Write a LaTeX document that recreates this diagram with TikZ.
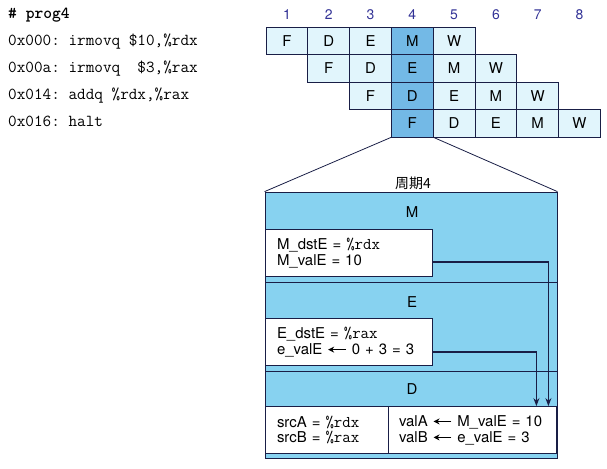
\documentclass[tikz,border=0pt]{standalone}
\usepackage{fontspec}
\setsansfont{TeX Gyre Heros}
\newfontfamily\cjkfont{Noto Sans CJK SC}
\usetikzlibrary{arrows.meta}

\definecolor{navy}{RGB}{25,30,70}
\definecolor{numblue}{RGB}{50,50,150}
\definecolor{cellblue}{RGB}{225,245,252}
\definecolor{hotblue}{RGB}{115,185,230}
\definecolor{bgblue}{RGB}{135,210,240}

\newcommand{\getsarrow}{\tikz[baseline=-0.6ex]\draw[-{Stealth[length=6bp,width=6bp]},line width=1.6bp] (1.2em,0pt) -- (0pt,0pt);}
\newcommand{\regname}[1]{{\ttfamily\fontsize{16.5}{16}\selectfont\%#1}}

\tikzset{
  stage/.style={rectangle, draw=navy, line width=0.8bp, fill=cellblue, minimum width=41.8bp, minimum height=27.5bp, inner sep=0pt, font=\sffamily\fontsize{15}{15}\selectfont},
  hot/.style={stage, fill=hotblue},
  num/.style={text=numblue, font=\sffamily\fontsize{14}{14}\selectfont},
  code/.style={anchor=west, inner sep=0pt, font=\ttfamily\fontsize{16.8}{16}\selectfont\frenchspacing},
  infobox/.style={rectangle, draw=navy, line width=0.8bp, fill=white, align=left, inner ysep=2bp, minimum height=47bp, font=\sffamily\fontsize{15}{16}\selectfont},
  feed/.style={draw=navy, line width=1.6bp, -{Stealth[length=8bp,width=6bp]}}
}

\begin{document}
\begin{tikzpicture}[x=1bp, y=-1bp]
  \useasboundingbox (0,0) rectangle (607,469);

  % program
  \node[code, font=\ttfamily\bfseries\fontsize{16.8}{16}\selectfont] (title) at (8,15) {\# prog4};
  \node[code] (line1) at (8,42) {0x000: irmovq \$10,\%rdx};
  \node[code] (line2) at (8,68.5) {0x00a: irmovq~~\$3,\%rax};
  \node[code] (line3) at (8,95.5) {0x014: addq \%rdx,\%rax};
  \node[code] (line4) at (8,121) {0x016: halt};

  % clock cycles
  \node[num] (n1) at (286.9,15) {1};
  \node[num] (n2) at (328.7,15) {2};
  \node[num] (n3) at (370.5,15) {3};
  \node[num] (n4) at (412.3,15) {4};
  \node[num] (n5) at (454.1,15) {5};
  \node[num] (n6) at (495.9,15) {6};
  \node[num] (n7) at (537.7,15) {7};
  \node[num] (n8) at (579.5,15) {8};

  % pipeline rows
  \node[stage] (r1c1) at (286.9,40.75) {F};
  \node[stage] (r1c2) at (328.7,40.75) {D};
  \node[stage] (r1c3) at (370.5,40.75) {E};
  \node[hot]   (r1c4) at (412.3,40.75) {M};
  \node[stage] (r1c5) at (454.1,40.75) {W};

  \node[stage] (r2c2) at (328.7,68.25) {F};
  \node[stage] (r2c3) at (370.5,68.25) {D};
  \node[hot]   (r2c4) at (412.3,68.25) {E};
  \node[stage] (r2c5) at (454.1,68.25) {M};
  \node[stage] (r2c6) at (495.9,68.25) {W};

  \node[stage] (r3c3) at (370.5,95.75) {F};
  \node[hot]   (r3c4) at (412.3,95.75) {D};
  \node[stage] (r3c5) at (454.1,95.75) {E};
  \node[stage] (r3c6) at (495.9,95.75) {M};
  \node[stage] (r3c7) at (537.7,95.75) {W};

  \node[hot]   (r4c4) at (412.3,123.25) {F};
  \node[stage] (r4c5) at (454.1,123.25) {D};
  \node[stage] (r4c6) at (495.9,123.25) {E};
  \node[stage] (r4c7) at (537.7,123.25) {M};
  \node[stage] (r4c8) at (579.5,123.25) {W};

  % cycle 4 detail
  \node[rectangle, draw=navy, line width=0.8bp, fill=bgblue, minimum width=292bp, minimum height=266bp] (cycle) at (411,325) {};
  \draw[navy, line width=0.8bp] (r4c4.south west) -- (cycle.north west);
  \draw[navy, line width=0.8bp] (r4c4.south east) -- (cycle.north east);
  \node[font=\cjkfont\fontsize{14}{14}\selectfont] (cyclab) at (413,183) {周期4};

  \draw[navy, line width=0.8bp] (265,282) -- (557,282);
  \draw[navy, line width=0.8bp] (265,371) -- (557,371);

  \node[font=\sffamily\fontsize{15}{15}\selectfont] (labm) at (412,212) {M};
  \node[font=\sffamily\fontsize{15}{15}\selectfont] (labe) at (412,302) {E};
  \node[font=\sffamily\fontsize{15}{15}\selectfont] (labd) at (412,389) {D};

  \node[infobox, minimum width=167bp, text width=143bp, inner xsep=12bp] (mbox) at (348.5,253)
    {M\_dstE = \regname{rdx}\\M\_valE = 10};
  \node[infobox, minimum width=167bp, text width=143bp, inner xsep=12bp] (ebox) at (348.5,342)
    {E\_dstE = \regname{rax}\\e\_valE \getsarrow{} 0 + 3 = 3};
  \node[infobox, minimum width=123bp, text width=99bp, inner xsep=12bp] (dleft) at (326.5,430)
    {srcA = \regname{rdx}\\srcB = \regname{rax}};
  \node[infobox, minimum width=168bp, text width=146bp, inner xsep=11bp] (dright) at (472,430)
    {valA \getsarrow{} M\_valE = 10\\valB \getsarrow{} e\_valE = 3};

  % forwarding
  \draw[feed] ([yshift=-9bp]mbox.east) -| ([xshift=-8bp]dright.north east);
  \draw[feed] ([yshift=-10bp]ebox.east) -| ([xshift=-20bp]dright.north east);
\end{tikzpicture}
\end{document}
